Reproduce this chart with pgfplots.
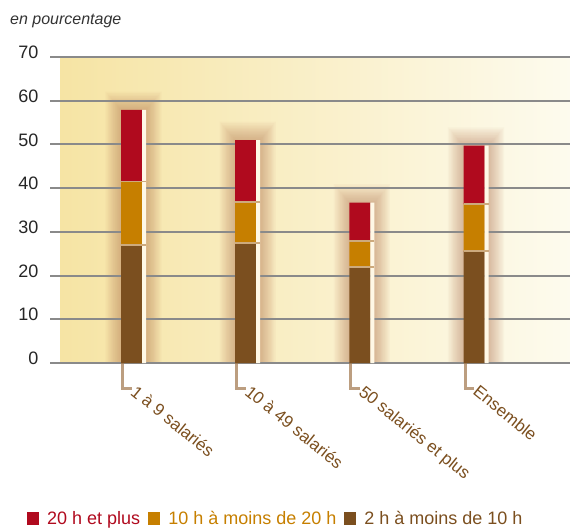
\documentclass[border=0pt]{standalone}
\usepackage{pgfplots}
\usepackage{pgfplotstable}
\pgfplotsset{compat=1.18}
\usepackage{fontspec}
\setmainfont{Liberation Sans}
\definecolor{cRed}{RGB}{176,10,30}
\definecolor{cOra}{RGB}{198,127,0}
\definecolor{cBro}{RGB}{123,79,31}
\definecolor{cStrip}{RGB}{255,248,230}
\definecolor{cSep}{RGB}{205,170,125}
\definecolor{cGrid}{RGB}{138,138,138}
\definecolor{bgL}{RGB}{246,228,164}
\definecolor{bgR}{RGB}{253,251,238}
\definecolor{cTick}{RGB}{165,125,85}
\definecolor{cShadow}{RGB}{165,90,55}

\pgfplotsset{base/.style={scale only axis, width=520bp, height=306bp,
  at={(0,0)}, anchor=south west, xmin=-0.7139, xmax=3.8407, ymin=0, ymax=70,
  clip=false, axis line style={draw=none}, major tick length=0pt,
  xtick=\empty, ytick=\empty}}

\pgfplotstableread{
x  low   mid   high  total
0  27.0  14.5  16.4  57.9
1  27.5   9.4  14.1  51.0
2  22.0   5.9   8.8  36.7
3  25.6  10.8  13.3  49.7
}\data

\pgfplotstableread{
x   y
0  27.0
0  41.5
1  27.5
1  36.9
2  22.0
2  27.9
3  25.6
3  36.4
}\seps

\begin{document}
\begin{tikzpicture}
\useasboundingbox (-50bp,-167bp) rectangle (520bp,363bp);
\fill[left color=bgL, right color=bgR] (10bp,0) rectangle (520bp,306bp);
\node[anchor=west, inner sep=0pt, font={\fontsize{16bp}{18bp}\selectfont\itshape}, text=black!80] at (-40bp,342bp) {en pourcentage};

% soft glow behind the bars
\begin{axis}[base]
\pgfplotsinvokeforeach{1,...,12}{
\addplot[ybar, bar width={25bp+#1*2.6bp}, bar shift=2bp, draw=none, fill=cShadow, fill opacity=0.035]
  table[x=x, y expr=\thisrow{total}+#1*0.35] {\data};
}
\end{axis}

% grid and labels
\begin{axis}[base,
  ytick={0,10,...,70}, ymajorgrids, grid style={cGrid, line width=2bp},
  /pgf/number format/assume math mode=true,
  yticklabel style={font={\fontsize{18bp}{20bp}\selectfont}, text=black!85, xshift=-8bp, yshift=4.5bp},
  xtick={0.052,1.052,2.052,3.052},
  xticklabels={1 à 9 salariés, 10 à 49 salariés, 50 salariés et plus, Ensemble},
  xticklabel style={rotate=-39, anchor=north west, inner sep=0pt, font={\fontsize{17bp}{19bp}\selectfont}, text=cBro},
  xticklabel shift=21bp]
\foreach \i in {0,1,2,3}{
  \edef\temp{\noexpand\draw[cTick, line width=3bp, opacity=0.75]
    ([xshift=-9bp]axis cs:\i,0) -- ([xshift=-9bp,yshift=-25bp]axis cs:\i,0) -- ([xshift=0bp,yshift=-25bp]axis cs:\i,0);}
  \temp
}
\end{axis}

% stacked bars
\begin{axis}[base, ybar stacked, bar width=21bp, reverse legend,
  legend columns=3,
  legend image code/.code={\fill[#1] (0bp,-6bp) rectangle (12bp,7bp);},
  legend style={at={(axis description cs:-0.0442,-0.5098)}, anchor=west, draw=none, fill=none,
    inner sep=0pt, font={\fontsize{18bp}{20bp}\selectfont},
    /tikz/every odd column/.append style={column sep=6bp},
    /tikz/every even column/.append style={column sep=6bp}}]
\addplot[fill=cBro, draw=none] table[x=x, y=low] {\data};
\addlegendentry{\textcolor{cBro}{2 h à moins de 10 h}}
\addplot[fill=cOra, draw=none] table[x=x, y=mid] {\data};
\addlegendentry{\textcolor{cOra}{10 h à moins de 20 h}}
\addplot[fill=cRed, draw=none] table[x=x, y=high] {\data};
\addlegendentry{\textcolor{cRed}{20 h et plus}}
\end{axis}

% white strips and separators
\begin{axis}[base]
\addplot[ybar, bar width=4bp, bar shift=12.5bp, fill=cStrip, draw=none] table[x=x, y=total] {\data};
\addplot[only marks, mark=-, mark size=12.5bp, mark options={xshift=2bp, line width=1.8bp, draw=cSep}] table[x=x, y=y] {\seps};
\end{axis}
\end{tikzpicture}
\end{document}
